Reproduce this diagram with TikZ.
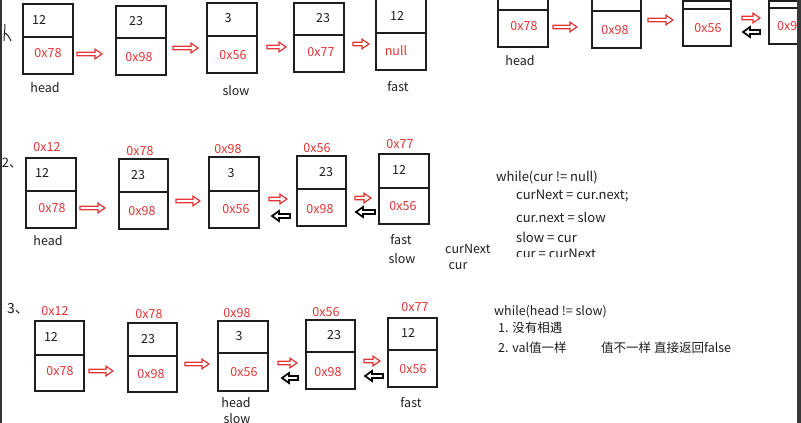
\documentclass[tikz,border=0pt]{standalone}
\usepackage{fontspec}
\setmainfont{Noto Sans CJK SC}
\definecolor{myred}{RGB}{228,52,52}
\definecolor{ink}{RGB}{30,30,30}
\tikzset{
  cell/.style={draw=ink, line width=1.1pt, anchor=north west, inner sep=0pt, outer sep=0pt},
  boxline/.style={draw=ink, line width=1.1pt},
  txt/.style={font=\fontsize{12.5}{14}\selectfont, text=ink, inner sep=0pt},
  addr/.style={font=\fontsize{12.5}{14}\selectfont, text=myred, inner sep=0pt},
  code/.style={font=\fontsize{12.5}{14}\selectfont, text=ink, inner sep=0pt, anchor=west},
  codeb/.style={code, font=\fontsize{13}{15}\selectfont},
  redarrow/.style={draw=myred, line width=1.2pt, line join=miter, fill=white},
  blackarrow/.style={draw=black, line width=1.7pt, line join=miter, fill=white},
}
% #1 name, #2 x, #3 ytop, #4 width, #5 ydiv, #6 ybottom
\newcommand{\lnode}[6]{%
  \node[cell, minimum width=#4pt, minimum height={(#6-(#3))*1pt}] (#1) at (#2,#3) {};
  \draw[boxline] (#2,#5) -- ++(#4,0);
}
% red arrow pointing right: tail x, tip x, y
\newcommand{\rarr}[3]{%
  \draw[redarrow] (#1,#3-1.8) -- (#2-7,#3-1.8) -- (#2-7,#3-4.8) -- (#2,#3) -- (#2-7,#3+4.8) -- (#2-7,#3+1.8) -- (#1,#3+1.8) -- cycle;
}
% black arrow pointing left: tail x, tip x, y
\newcommand{\barr}[3]{%
  \draw[blackarrow] (#1,#3-2) -- (#2+7,#3-2) -- (#2+7,#3-5) -- (#2,#3) -- (#2+7,#3+5) -- (#2+7,#3+2) -- (#1,#3+2) -- cycle;
}
\begin{document}
\begin{tikzpicture}[x=1pt,y=-1pt]
\clip (0,0) rectangle (801,423);
\fill[white] (0,0) rectangle (801,423);

% ---------------- Row 1 ----------------
\draw[ink, line width=1pt] (5,24) .. controls (5,30) and (4,36) .. (4,41)
  (4,33) .. controls (7,33) and (9,37) .. (11,41);
\lnode{a1}{23}{4}{50}{37}{74}
\lnode{a2}{116}{6}{50}{38}{75}
\lnode{a3}{207}{3}{50}{36}{73}
\lnode{a4}{294}{3}{50}{35}{72}
\lnode{a5}{376}{-1}{50}{33}{70}
\node[addr] (a2addr) at (139,-4) {0x78};
\node[txt] at (39,20) {12};   \node[addr] at (48,53) {0x78};
\node[txt] at (136,21) {23};  \node[addr] at (139,57) {0x98};
\node[txt] at (228,18) {3};   \node[addr] at (233,55) {0x56};
\node[txt] at (323,18) {23};  \node[addr] at (321,52) {0x77};
\node[txt] at (397,16) {12};  \node[addr] at (396,51) {null};
\node[txt] (ahead) at (45,88) {head};
\node[txt] (aslow) at (236,91) {slow};
\node[txt] (afast) at (398,87) {fast};
\rarr{77}{102}{54}
\rarr{173}{198}{48}
\rarr{267}{286}{47}
\rarr{353}{369}{44}

% ---------------- Top right ----------------
\lnode{t1}{498}{-3}{50}{10}{47}
\lnode{t2}{592}{-3}{49}{11}{48}
\lnode{t3}{683}{1}{48}{9}{46}
\lnode{t4}{769}{1}{50}{8}{44}
\node[addr] at (524,26) {0x78};
\node[addr] at (615,30) {0x98};
\node[addr] at (708,28) {0x56};
\node[addr, anchor=west] at (777,26) {0x98};
\node[txt] (thead) at (520,61) {head};
\rarr{553}{577}{27}
\rarr{648}{673}{20}
\rarr{742}{760}{18}
\barr{760}{743}{32}

% ---------------- Row 2 ----------------
\node[txt, font=\fontsize{13}{14}\selectfont] at (12,163) {2、};
\lnode{b1}{26}{158}{50}{191}{228}
\lnode{b2}{119}{159}{49}{192}{229}
\lnode{b3}{209}{157}{50}{191}{228}
\lnode{b4}{297}{156}{49}{189}{226}
\lnode{b5}{379}{154}{50}{188}{224}
\node[addr] at (47,147) {0x12};
\node[addr] at (140,151) {0x78};
\node[addr] at (228,149) {0x98};
\node[addr] at (317,148) {0x56};
\node[addr] at (400,144) {0x77};
\node[txt] at (42,173) {12};  \node[addr] at (52,208) {0x78};
\node[txt] at (138,175) {23}; \node[addr] at (142,211) {0x98};
\node[txt] at (231,173) {3};  \node[addr] at (236,209) {0x56};
\node[txt] at (326,172) {23}; \node[addr] at (320,209) {0x98};
\node[txt] at (399,170) {12}; \node[addr] at (403,206) {0x56};
\node[txt] (bhead) at (48,241) {head};
\node[txt] (bfast) at (401,240) {fast};
\node[txt] (bslow) at (402,259) {slow};
\rarr{80}{105}{208}
\rarr{176}{200}{201}
\rarr{269}{287}{199}
\barr{290}{272}{216}
\rarr{355}{371}{198}
\barr{375}{356}{212}

% code 1
\node[codeb] at (496,177) {while(cur != null)};
\node[codeb] at (516,196) {curNext = cur.next;};
\node[codeb] at (516,217) {cur.next = slow};
\node[codeb] at (516,237) {slow = cur};
\begin{scope}
\clip (500,240) rectangle (640,256);
\node[codeb] at (516,254) {cur = curNext};
\end{scope}
\node[code] (ccn) at (445,249) {curNext};
\node[txt] (ccur) at (458,266) {cur};

% ---------------- Row 3 ----------------
\node[txt, font=\fontsize{14}{15}\selectfont] at (18,309) {3、};
\lnode{c1}{35}{321}{49}{355}{391}
\lnode{c2}{128}{323}{49}{356}{392}
\lnode{c3}{218}{321}{50}{353}{391}
\lnode{c4}{306}{320}{49}{352}{389}
\lnode{c5}{388}{318}{49}{350}{387}
\node[addr] at (55,311) {0x12};
\node[addr] at (149,314) {0x78};
\node[addr] at (237,313) {0x98};
\node[addr] at (326,312) {0x56};
\node[addr] at (415,307) {0x77};
\node[txt] at (51,337) {12};  \node[addr] at (60,371) {0x78};
\node[txt] at (148,339) {23}; \node[addr] at (151,374) {0x98};
\node[txt] at (239,336) {3};  \node[addr] at (244,372) {0x56};
\node[txt] at (334,335) {23}; \node[addr] at (328,372) {0x98};
\node[txt] at (408,333) {12}; \node[addr] at (413,369) {0x56};
\node[txt] (chead) at (236,403) {head};
\node[txt] (cslow) at (237,419) {slow};
\node[txt] (cfast) at (411,403) {fast};
\rarr{89}{113}{371}
\rarr{185}{209}{364}
\rarr{278}{297}{363}
\barr{298}{282}{378}
\rarr{364}{380}{361}
\barr{383}{365}{376}

% code 2
\node[code] at (494,312) {while(head != slow)};
\node[code] at (498,328) {1. 没有相遇};
\node[code] at (498,348) {2. val值一样};
\node[code] at (601,348) {值不一样 直接返回false};

% window edges
\fill[black!80] (0,0) rectangle (2,423);
\fill[black!78] (797,0) rectangle (801,423);
\end{tikzpicture}
\end{document}
